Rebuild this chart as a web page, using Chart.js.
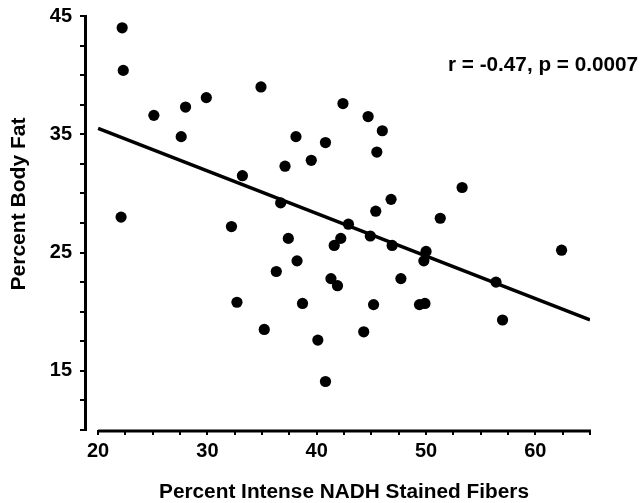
<!DOCTYPE html>
<html>
<head>
<meta charset="utf-8">
<script src="https://cdn.jsdelivr.net/npm/chart.js@4.4.1/dist/chart.umd.min.js"></script>
<style>
html,body{margin:0;padding:0;background:#fff;}
#wrap{width:640px;height:503px;}
</style>
</head>
<body>
<div id="wrap"><canvas id="c" width="640" height="503"></canvas></div>
<script>
// Data
const nadhPercent = [22.2,22.3,25.1,28.0,29.9,27.6,22.1,34.9,33.2,42.4,44.7,46.0,45.5,40.8,38.1,39.5,37.1,36.7,53.3,46.8,45.4,51.3,42.9,32.2,37.4,38.2,36.3,32.7,38.7,35.2,40.1,40.8,41.6,42.2,41.3,41.9,44.9,46.9,50.0,49.8,47.7,45.2,49.4,49.9,44.3,62.4,56.4,57.0];
const bodyFat =     [44.0,40.4,36.6,37.3,38.1,34.8,28.0,39.0,31.5,37.6,36.5,35.3,33.5,34.3,34.8,32.8,32.3,29.2,30.5,29.5,28.5,27.9,27.4,27.2,26.2,24.3,23.4,20.8,20.7,18.5,17.6,14.1,25.6,26.2,22.8,22.2,26.4,25.6,25.1,24.3,22.8,20.6,20.6,20.7,18.3,25.2,22.5,19.3];
const fitX = [20, 65];
const fitY = [35.5, 19.3];
const xTickValues = [20,22.5,25,27.5,30,32.5,35,37.5,40,42.5,45,47.5,50,52.5,55,57.5,60,62.5,65];
const xTickLabels = [20,30,40,50,60];
const yTickValues = [10,12.5,15,17.5,20,22.5,25,27.5,30,32.5,35,37.5,40,42.5,45];
const yTickLabels = [15,25,35,45];
const xTitle = 'Percent Intense NADH Stained Fibers';
const yTitle = 'Percent Body Fat';
const statText = 'r = -0.47, p = 0.0007';

const FONT = '"Liberation Sans", Arial, Helvetica, sans-serif';

function fitText(ctx, text, cx, cy, width, rot, size) {
  ctx.save();
  ctx.font = 'bold ' + size + 'px ' + FONT;
  const w = ctx.measureText(text).width;
  ctx.translate(cx, cy);
  ctx.rotate(rot);
  ctx.scale(width / w, 1);
  ctx.textAlign = 'center';
  ctx.textBaseline = 'alphabetic';
  ctx.fillStyle = '#000';
  ctx.fillText(text, 0, 0);
  ctx.restore();
}

const decor = {
  id: 'decor',
  afterDraw(chart) {
    const {ctx, chartArea, scales} = chart;
    const x = scales.x;
    ctx.save();
    ctx.strokeStyle = '#000';
    ctx.lineWidth = 3;
    ctx.beginPath();
    ctx.moveTo(x.getPixelForValue(xTickValues[0]), chartArea.bottom + 1);
    ctx.lineTo(x.getPixelForValue(xTickValues[xTickValues.length - 1]) + 1, chartArea.bottom + 1);
    ctx.stroke();
    ctx.restore();
    fitText(ctx, xTitle, 344, 498, 370, 0, 20);
    fitText(ctx, yTitle, 25, 204, 173, -Math.PI / 2, 20);
    fitText(ctx, statText, 543, 71, 190, 0, 20);
  }
};

new Chart(document.getElementById('c'), {
  type: 'scatter',
  data: {
    datasets: [
      {
        data: nadhPercent.map((v, i) => ({x: v, y: bodyFat[i]})),
        backgroundColor: '#000',
        borderColor: '#000',
        borderWidth: 0,
        pointRadius: 5.6,
        pointHoverRadius: 5.6
      },
      {
        data: fitX.map((v, i) => ({x: v, y: fitY[i]})),
        showLine: true,
        borderColor: '#000',
        borderWidth: 3.5,
        pointRadius: 0,
        fill: false
      }
    ]
  },
  options: {
    responsive: false,
    animation: false,
    events: [],
    layout: {padding: {left: 0, top: 16, right: 50, bottom: 0}},
    plugins: {legend: {display: false}, tooltip: {enabled: false}},
    scales: {
      x: {
        type: 'linear',
        min: 18.8,
        max: 65,
        afterBuildTicks: (s) => { s.ticks = xTickValues.map(v => ({value: v})); },
        afterFit: (s) => { s.height = 73; },
        border: {display: false},
        grid: {display: true, drawOnChartArea: false, drawTicks: true, tickLength: 5, color: '#000', lineWidth: 2},
        ticks: {
          color: '#000',
          font: {family: FONT, size: 20, weight: 'bold'},
          padding: 4,
          maxRotation: 0,
          autoSkip: false,
          callback: (v) => xTickLabels.includes(v) ? String(v) : ''
        }
      },
      y: {
        type: 'linear',
        min: 10,
        max: 45,
        afterBuildTicks: (s) => { s.ticks = yTickValues.map(v => ({value: v})); },
        afterFit: (s) => { s.width = 85; },
        border: {display: true, color: '#000', width: 3},
        grid: {display: true, drawOnChartArea: false, drawTicks: true, tickLength: 5, color: '#000', lineWidth: 2},
        ticks: {
          color: '#000',
          font: {family: FONT, size: 20, weight: 'bold', lineHeight: 0.6},
          padding: 8,
          autoSkip: false,
          callback: (v) => yTickLabels.includes(v) ? String(v) : ''
        }
      }
    }
  },
  plugins: [decor]
});
</script>
</body>
</html>
